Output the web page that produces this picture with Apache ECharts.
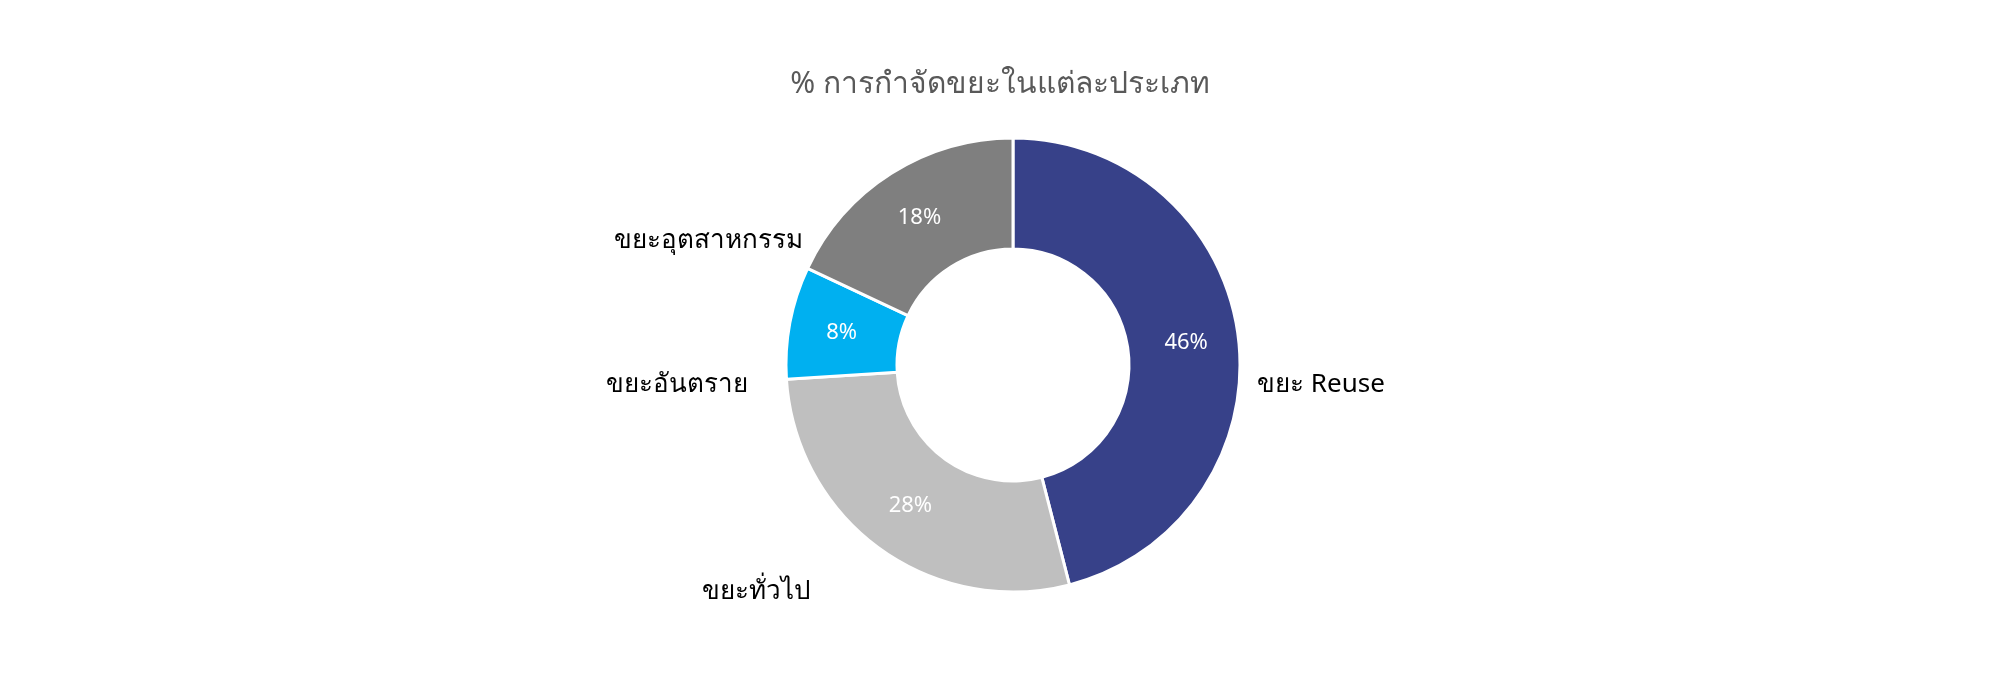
<!DOCTYPE html>
<html>
<head>
<meta charset="utf-8">
<script src="https://cdn.jsdelivr.net/npm/echarts@6/dist/echarts.min.js"></script>
<style>
  html, body { margin: 0; padding: 0; background: #fff; }
  #main { width: 2000px; height: 693px; }
</style>
</head>
<body>
<div id="main"></div>
<script>
// ข้อมูลของกราฟ
var categories = ['ขยะ Reuse', 'ขยะทั่วไป', 'ขยะอันตราย', 'ขยะอุตสาหกรรม'];
var percents = [46, 28, 8, 18];
var colors = ['#374189', '#BFBFBF', '#00B0F0', '#7F7F7F'];

// เลื่อนป้ายชื่อด้านนอกให้ตรงกับต้นฉบับ (dx, dy)
var labelNudge = [[-8, 50], [-47, 32], [-15, 65], [-68, 79]];

var font = 'Noto Sans, DejaVu Sans, sans-serif';

var pieData = categories.map(function (name, i) {
    return { name: name, value: percents[i], itemStyle: { color: colors[i] } };
});

var myChart = echarts.init(document.getElementById('main'));
myChart.setOption({
    animation: false,
    title: {
        text: '% การกำจัดขยะในแต่ละประเภท',
        left: 'center',
        top: 64,
        textStyle: { color: '#595959', fontSize: 30, fontWeight: 'normal', fontFamily: font }
    },
    series: [
        {
            // วงโดนัทพร้อมเปอร์เซ็นต์ด้านใน
            type: 'pie',
            center: [1013, 365],
            radius: [116, 227],
            startAngle: 90,
            clockwise: true,
            itemStyle: { borderColor: '#fff', borderWidth: 3 },
            label: {
                position: 'inside',
                formatter: '{c}%',
                color: '#fff',
                fontSize: 22,
                fontFamily: font
            },
            labelLine: { show: false },
            data: pieData
        },
        {
            // ชื่อประเภทอยู่ด้านนอก
            type: 'pie',
            silent: true,
            center: [1013, 365],
            radius: [116, 227],
            startAngle: 90,
            clockwise: true,
            itemStyle: { color: 'rgba(0,0,0,0)' },
            label: {
                position: 'outside',
                formatter: '{b}',
                color: '#000',
                fontSize: 26,
                fontFamily: font
            },
            labelLine: { show: false, length: 14, length2: 8 },
            labelLayout: function (params) {
                var n = labelNudge[params.dataIndex];
                return { dx: n[0], dy: n[1] };
            },
            data: categories.map(function (name, i) {
                return { name: name, value: percents[i] };
            })
        }
    ]
});
</script>
</body>
</html>
